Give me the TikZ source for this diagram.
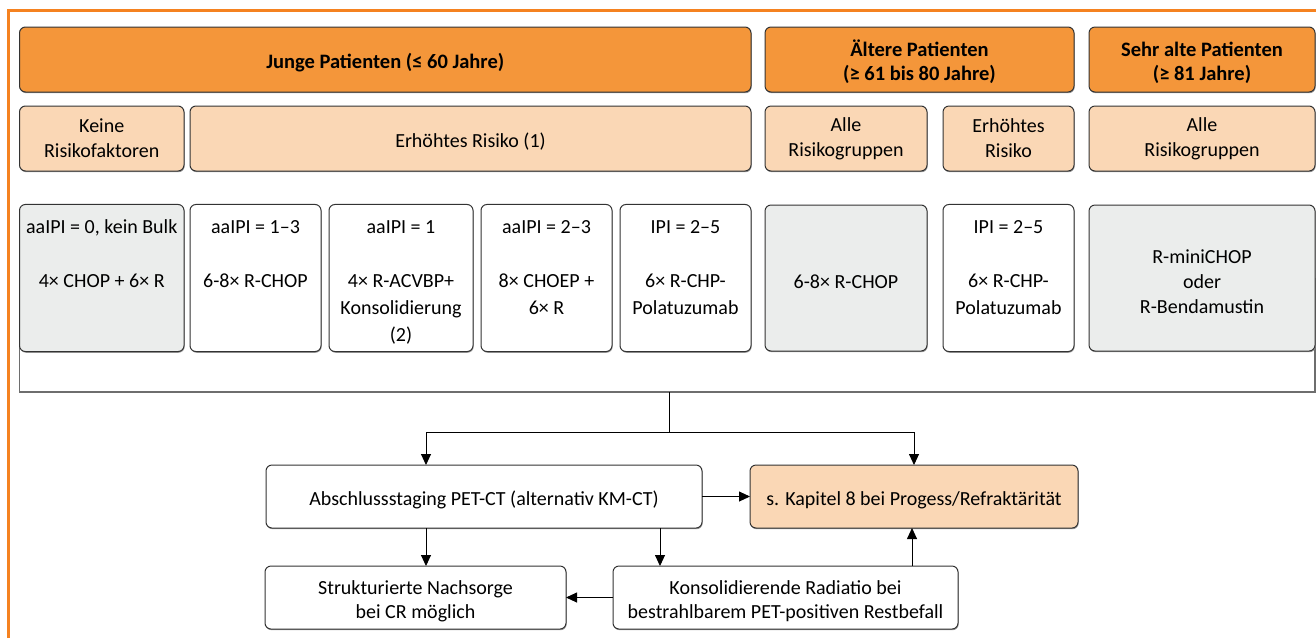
\documentclass[tikz,border=0pt]{standalone}
\usepackage{fontspec}
\setmainfont{Carlito}
\usetikzlibrary{arrows.meta,shadows,calc}
\definecolor{frameor}{HTML}{F58220}
\definecolor{hdror}{HTML}{F4963A}
\definecolor{peach}{HTML}{FAD7B5}
\definecolor{lgray}{HTML}{EBEDEC}
\definecolor{edgec}{HTML}{333333}
\definecolor{brkc}{HTML}{6E6E6E}
\newcommand{\tp}{\rule{0pt}{1.05em}}
\newcommand{\tq}{\rule{0pt}{27pt}}
\pgfdeclarelayer{bg}
\pgfsetlayers{bg,main}
\begin{document}
\begin{tikzpicture}[x=1pt,y=-1pt,
  box/.style={draw=edgec, line width=1pt, rounded corners=6pt, inner sep=2pt, outer sep=0pt,
    align=center, fill=white, font=\fontsize{20}{25}\selectfont,
    drop shadow={shadow xshift=0.6pt, shadow yshift=-1.2pt, fill=black!40, opacity=1}},
  hdr/.style={box, fill=hdror, font=\bfseries\fontsize{20.5}{24}\selectfont},
  risk/.style={box, fill=peach},
  tbox/.style={box, font=\fontsize{20}{27}\selectfont},
  gbox/.style={tbox, fill=lgray},
  fbox/.style={box, font=\fontsize{20}{24}\selectfont},
  conn/.style={draw=black, line width=0.9pt},
  arr/.style={conn, -{Triangle[length=11pt,width=10pt]}},
  brkline/.style={draw=brkc, line width=1.6pt}
]
\useasboundingbox (0,0) rectangle (1316,638);
\draw[frameor, line width=3pt] (8,638) -- (8,10) -- (1316,10);

% header row
\node[hdr, minimum width=731.5pt, minimum height=65pt] (h1) at (385.25,59.5) {\tp Junge Patienten (≤ 60 Jahre)};
\node[hdr, minimum width=309pt, minimum height=65pt] (h2) at (919.5,59.5) {\tp Ältere Patienten\\(≥ 61 bis 80 Jahre)};
\node[hdr, minimum width=226pt, minimum height=65pt] (h3) at (1202,59.5) {\tp Sehr alte Patienten\\(≥ 81 Jahre)};

% risk row
\node[risk, minimum width=164.5pt, minimum height=65pt] (r1) at (101.75,138.5) {Keine\\Risikofaktoren};
\node[risk, minimum width=561pt, minimum height=65pt] (r2) at (470.5,138.5) {\tp Erhöhtes Risiko (1)};
\node[risk, minimum width=162pt, minimum height=65pt] (r3) at (846,138.5) {Alle\\Risikogruppen};
\node[risk, minimum width=131pt, minimum height=65pt] (r4) at (1008.5,138.5) {Erhöhtes\\Risiko};
\node[risk, minimum width=226pt, minimum height=65pt] (r5) at (1202,138.5) {Alle\\Risikogruppen};

% therapy row
\node[gbox, minimum width=164.5pt, minimum height=146pt] (b1) at (101.75,278)
  {\tq aaIPI = 0, kein Bulk\\\strut\\\strut 4× CHOP + 6× R\\\strut\\\strut};
\node[tbox, minimum width=131pt, minimum height=146pt] (b2) at (255.5,278)
  {\tq aaIPI = 1–3\\\strut\\\strut 6-8× R-CHOP\\\strut\\\strut};
\node[tbox, minimum width=144pt, minimum height=146pt] (b3) at (401,278)
  {\tq aaIPI = 1\\\strut\\\strut 4× R-ACVBP+\\\strut Konsolidierung\\\strut (2)};
\node[tbox, minimum width=131pt, minimum height=146pt] (b4) at (546.5,278)
  {\tq aaIPI = 2–3\\\strut\\\strut 8× CHOEP +\\\strut 6× R\\\strut};
\node[tbox, minimum width=131pt, minimum height=146pt] (b5) at (685.5,278)
  {\tq IPI = 2–5\\\strut\\\strut 6× R-CHP-\\\strut Polatuzumab\\\strut};
\node[gbox, minimum width=162pt, minimum height=146pt] (b6) at (846,278) {\tp 6-8× R-CHOP};
\node[tbox, minimum width=131pt, minimum height=146pt] (b7) at (1008.5,278)
  {\tq IPI = 2–5\\\strut\\\strut 6× R-CHP-\\\strut Polatuzumab\\\strut};
\node[box, fill=lgray, minimum width=226pt, minimum height=146pt] (b8) at (1202,278)
  {\tp R-miniCHOP\\oder\\R-Bendamustin};

% bracket
\coordinate (brk) at (669,392);
\coordinate (sp) at (669,432);
\begin{pgfonlayer}{bg}
\draw[brkline] (b1.west) |- (brk) -| (b8.east);
\end{pgfonlayer}

% bottom flow
\node[fbox, minimum width=436pt, minimum height=63pt] (abs) at (484,496.5) {\tp Abschlussstaging PET-CT (alternativ KM-CT)};
\node[fbox, fill=peach, minimum width=328pt, minimum height=63pt] (kap) at (914,496.5) {\tp s. Kapitel 8 bei Progess/Refraktärität};
\node[fbox, minimum width=301pt, minimum height=63pt] (nach) at (415.5,597.5) {\tp Strukturierte Nachsorge\\bei CR möglich};
\node[fbox, minimum width=345pt, minimum height=63pt] (kons) at (785.5,597.5) {\tp Konsolidierende Radiatio bei\\bestrahlbarem PET-positiven Restbefall};

\coordinate (ax) at (426,0);
\coordinate (kx) at (914,0);
\coordinate (bx) at (660,0);
\coordinate (ux) at (912,0);

\draw[conn] (brk) -- (sp);
\draw[arr] (sp) -| (ax |- abs.north);
\draw[arr] (sp) -| (kx |- kap.north);
\draw[arr] (abs.east) -- (kap.west);
\draw[arr] (ax |- abs.south) -- (ax |- nach.north);
\draw[arr] (bx |- abs.south) -- (bx |- kons.north);
\draw[arr] (kons.west) -- (nach.east);
\draw[arr] (ux |- kons.north) -- (ux |- kap.south);
\end{tikzpicture}
\end{document}
